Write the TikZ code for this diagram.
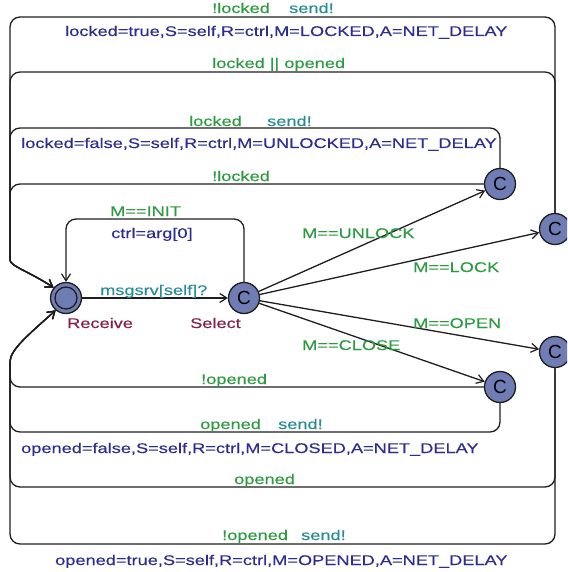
\documentclass[tikz,border=0pt]{standalone}
\usepackage{fontspec}
\setmainfont{Liberation Sans}[FakeStretch=1.3,FakeBold=0.3]
\newfontfamily\locfont{Liberation Sans}
\usetikzlibrary{arrows.meta}
\definecolor{locfill}{RGB}{112,125,180}
\definecolor{guardcol}{RGB}{45,155,65}
\definecolor{synccol}{RGB}{40,140,150}
\definecolor{assigncol}{RGB}{45,45,145}
\definecolor{namecol}{RGB}{130,32,75}
\definecolor{linecol}{RGB}{30,30,30}
\begin{document}
\begin{tikzpicture}[x=1pt,y=-1pt,
  loc/.style={circle, draw=linecol, line width=1.3pt, fill=locfill,
    minimum size=31pt, inner sep=0pt, font=\locfont\fontsize{19}{19}\selectfont},
  edge/.style={draw=linecol, line width=1.3pt, rounded corners=10pt,
    -{Straight Barb[length=7pt,width=9pt,line width=1.2pt]}},
  lbl/.style={anchor=base west, inner sep=0pt, font=\fontsize{14}{16}\selectfont},
  guard/.style={lbl, text=guardcol},
  sync/.style={lbl, text=synccol},
  assign/.style={lbl, text=assigncol},
  locname/.style={lbl, text=namecol}]
\useasboundingbox (0,0) rectangle (567,572);
\clip (0,0) rectangle (567,572);

% locations
\node[loc, path picture={\draw[line width=1.3pt, draw=linecol]
  (path picture bounding box.center) circle (11pt);}] (Receive) at (66,298) {};
\node[loc] (Select) at (244,298) {C};
\node[loc] (C1) at (500,184) {C};
\node[loc] (C2) at (555,229) {C};
\node[loc] (C3) at (555,352) {C};
\node[loc] (C4) at (500,387) {C};
\coordinate (initTop) at (0,219);

% edges
\draw[edge] (Receive) -- (Select);
\draw[edge] (Select.north) |- (initTop -| Receive.north) -- (Receive.north);
\draw[edge] (Select) -- (C1);
\draw[edge] (Select) -- (C2);
\draw[edge] (Select) -- (C3);
\draw[edge] (Select) -- (C4);

% return edges over the top
\draw[edge] (C2.north) |- (10,17) -- (10,250) [sharp corners]
  .. controls (10,266) and (30,272) .. (Receive.140);
\draw[edge] (C2.north) |- (10,72) -- (10,250) [sharp corners]
  .. controls (10,266) and (30,272) .. (Receive.140);
\draw[edge] (C1.north) |- (10,128) -- (10,250) [sharp corners]
  .. controls (10,266) and (30,272) .. (Receive.140);
\draw[edge] (C1.west) -- (10,184) -- (10,250) [sharp corners]
  .. controls (10,266) and (30,272) .. (Receive.140);

% return edges underneath
\draw[edge] (C4.west) -- (10,387) -- (10,372) [sharp corners]
  .. controls (10,350) and (28,335) .. (Receive.-130);
\draw[edge] (C4.south) |- (10,432) -- (10,372) [sharp corners]
  .. controls (10,350) and (28,335) .. (Receive.-130);
\draw[edge] (C3.south) |- (10,487) -- (10,372) [sharp corners]
  .. controls (10,350) and (28,335) .. (Receive.-130);
\draw[edge] (C3.south) |- (10,544) -- (10,372) [sharp corners]
  .. controls (10,350) and (28,335) .. (Receive.-130);

% labels
\node[guard] (g1) at (212,13) {!locked};
\node[sync] (s1) at (289,13) {send!};
\node[assign] (a1) at (65,36) {locked=true,S=self,R=ctrl,M=LOCKED,A=NET\_DELAY};
\node[guard] (g2) at (212,68) {locked || opened};
\node[guard] (g3) at (189,126) {locked};
\node[sync] (s3) at (267,126) {send!};
\node[assign] (a3) at (21,148) {locked=false,S=self,R=ctrl,M=UNLOCKED,A=NET\_DELAY};
\node[guard] (g4) at (212,181) {!locked};
\node[guard] (gi) at (110,216) {M==INIT};
\node[assign] (ai) at (111,238) {ctrl=arg[0]};
\node[guard] (gu) at (302,238) {M==UNLOCK};
\node[guard] (gl) at (413,272) {M==LOCK};
\node[sync] (sr) at (100,295) {msgsrv[self]?};
\node[locname] (nr) at (67,328) {Receive};
\node[locname] (ns) at (190,328) {Select};
\node[guard] (go) at (413,328) {M==OPEN};
\node[guard] (gc) at (302,350) {M==CLOSE};
\node[guard] (g5) at (201,384) {!opened};
\node[guard] (g6) at (200,429) {opened};
\node[sync] (s6) at (278,429) {send!};
\node[assign] (a6) at (21,453) {opened=false,S=self,R=ctrl,M=CLOSED,A=NET\_DELAY};
\node[guard] (g7) at (234,484) {opened};
\node[guard] (g8) at (222,540) {!opened};
\node[sync] (s8) at (301,540) {send!};
\node[assign] (a8) at (55,565) {opened=true,S=self,R=ctrl,M=OPENED,A=NET\_DELAY};
\end{tikzpicture}
\end{document}
